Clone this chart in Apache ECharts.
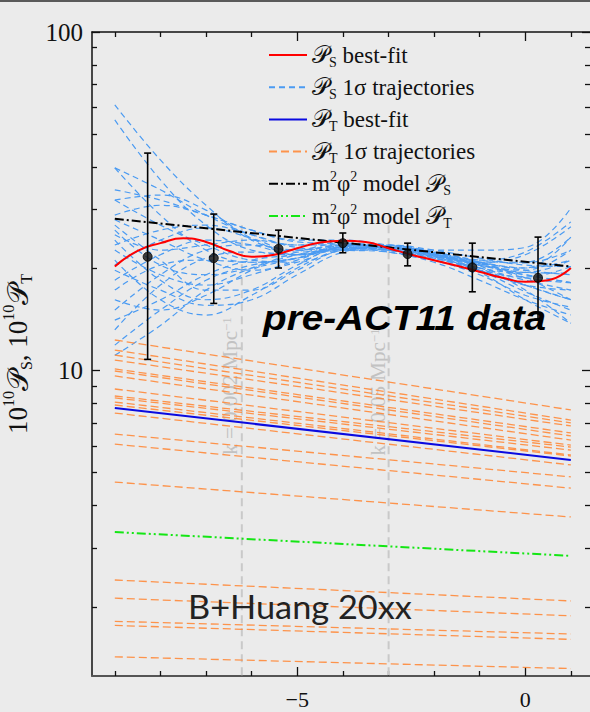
<!DOCTYPE html>
<html>
<head>
<meta charset="utf-8">
<script src="https://cdn.jsdelivr.net/npm/echarts@6/dist/echarts.min.js"></script>
<style>html,body{margin:0;padding:0;background:#ebebeb;}#c{width:590px;height:712px;}</style>
</head>
<body>
<div id="c"></div>
<script>
// ---------- data ----------
const xNodes = [-9, -8, -7, -6, -5, -4, -3, -2, -1, 0, 1];
const psTrajectories = [
  [60.9, 41.9, 30.8, 24.3, 22.7, 23.5, 23.5, 22.4, 20.9, 19.8, 19.2],
  [55.0, 36.6, 26.9, 22.7, 22.0, 23.1, 22.7, 21.5, 19.8, 17.9, 16.2],
  [39.7, 34.2, 28.8, 25.2, 23.5, 23.8, 23.2, 22.0, 20.5, 19.5, 21.2],
  [39.7, 28.8, 22.7, 20.9, 21.5, 23.4, 23.1, 21.8, 20.1, 17.3, 13.8],
  [34.2, 31.9, 28.8, 26.0, 24.0, 23.7, 22.9, 21.7, 20.9, 22.0, 26.6],
  [31.9, 26.9, 23.5, 21.2, 20.9, 22.7, 23.1, 22.0, 20.5, 19.2, 18.2],
  [28.8, 30.8, 28.8, 26.0, 24.3, 24.3, 23.5, 22.7, 22.7, 23.1, 30.2],
  [27.9, 24.3, 21.2, 19.8, 20.9, 23.1, 22.7, 21.2, 19.2, 16.7, 15.4],
  [26.9, 21.2, 17.3, 17.3, 19.8, 22.7, 23.1, 22.3, 21.2, 20.8, 22.7],
  [25.2, 22.7, 23.5, 24.3, 23.5, 23.5, 22.7, 21.5, 20.1, 18.5, 17.3],
  [24.3, 18.5, 16.2, 17.3, 20.5, 23.2, 23.4, 22.3, 20.4, 17.9, 16.2],
  [23.5, 26.0, 26.9, 25.2, 23.1, 22.7, 22.4, 21.2, 19.8, 18.9, 20.3],
  [22.7, 19.2, 17.9, 19.2, 21.2, 23.1, 22.4, 20.9, 18.5, 16.2, 14.6],
  [21.2, 16.2, 14.6, 16.7, 20.1, 22.7, 23.1, 22.0, 20.9, 20.1, 24.8],
  [20.5, 24.3, 26.4, 24.6, 22.4, 22.7, 22.7, 21.8, 20.7, 19.5, 19.4],
  [19.8, 17.3, 15.6, 16.2, 19.2, 22.4, 23.2, 22.4, 20.9, 18.8, 16.2],
  [18.5, 22.0, 24.3, 23.5, 22.0, 22.9, 23.2, 22.1, 20.8, 20.1, 21.2],
  [17.3, 20.5, 21.2, 20.9, 21.5, 23.4, 23.4, 22.1, 19.8, 17.1, 15.1],
  [16.2, 15.1, 16.7, 19.8, 22.4, 23.7, 23.2, 21.8, 20.1, 19.2, 18.2],
  [15.1, 19.2, 22.7, 23.5, 22.7, 23.4, 22.9, 21.7, 19.8, 17.9, 17.3],
  [14.1, 16.2, 19.2, 21.2, 22.0, 23.1, 23.1, 22.0, 20.9, 20.9, 24.8],
  [13.2, 17.9, 21.5, 22.4, 22.0, 22.9, 22.7, 21.5, 19.5, 16.2, 13.8],
  [11.9, 15.1, 18.5, 20.5, 21.5, 23.1, 23.1, 22.1, 20.7, 18.8, 18.2],
  [11.1, 13.6, 17.3, 20.1, 22.0, 23.5, 23.2, 22.0, 20.5, 19.8, 22.7],
  [31.9, 33.0, 29.8, 24.6, 22.0, 22.7, 22.9, 22.1, 21.2, 22.4, 27.5],
  [26.0, 20.5, 19.2, 20.1, 21.5, 23.2, 23.5, 22.7, 21.5, 20.5, 20.3]
];
const ptX = [-9, 1];
const ptTrajectories = [
  [12.32, 7.66], [11.51, 7.15], [11.12, 7.01], [10.75, 6.87], [10.12, 6.55],
  [9.98, 6.42], [9.65, 6.24], [8.83, 6.03], [8.42, 5.95], [8.31, 5.83],
  [8.08, 5.64], [7.92, 5.60], [7.50, 5.27], [6.50, 4.86], [6.07, 4.50],
  [4.69, 3.70], [2.41, 2.09], [2.13, 1.89], [1.82, 1.67], [1.77, 1.61], [1.43, 1.32]
];
const bestX = [-9, -8.5, -8, -7.5, -7, -6.5, -6, -5.5, -5, -4.5, -4, -3.5, -3, -2.5, -2, -1.5, -1, -0.5, 0, 0.5, 1];
const psBest = [20.3, 22.6, 23.8, 24.6, 24.0, 22.6, 21.7, 22.0, 23.0, 23.9, 24.2, 24.0, 23.0, 22.0, 21.2, 20.4, 19.6, 18.8, 18.3, 18.5, 20.1];
const ptBest = [7.76, 5.45];
const modelPS = [28.1, 20.3];
const modelPT = [3.34, 2.84];
const dataX = [-8.28, -6.83, -5.41, -4.0, -2.58, -1.16, 0.28];
const dataY = [21.7, 21.5, 22.9, 23.8, 22.1, 20.2, 18.8];
const dataLo = [10.8, 15.8, 20.1, 22.3, 20.4, 17.1, 14.2];
const dataHi = [43.9, 29.0, 26.0, 25.5, 23.8, 23.8, 24.8];
const kLineX = [-6.215, -2.996];
const kLineTop = 26.9;
const xMajorTicks = [-5, 0];
const xMinorTicks = [-9, -8, -7, -6, -4, -3, -2, -1, 1];
const yMajorTicks = [10, 100];
const yMinorTicks = [2, 3, 4, 5, 6, 7, 8, 9, 20, 30, 40, 50, 60, 70, 80, 90];
const xRange = [-9.5, 1.42];
const yRange = [1.255, 100];

// ---------- styling helpers ----------
const SERIF = 'Liberation Serif';
const PFONT = 'DejaVu Serif';
function richSet(base, pSize, small) {
  return {
    p: {fontFamily: PFONT, fontSize: pSize, lineHeight: base + 8, color: '#111'},
    sub: {fontFamily: SERIF, fontSize: small, lineHeight: small + 1, verticalAlign: 'bottom', color: '#111'},
    sup: {fontFamily: SERIF, fontSize: small, lineHeight: small + 1, verticalAlign: 'top', color: '#111'}
  };
}
const legendLabels = {
  'PS best-fit': '{p|𝒫}{sub|S} best-fit',
  'PS 1σ trajectories': '{p|𝒫}{sub|S} 1σ trajectories',
  'PT best-fit': '{p|𝒫}{sub|T} best-fit',
  'PT 1σ trajectories': '{p|𝒫}{sub|T} 1σ trajectories',
  'm2φ2 model PS': 'm{sup|2}φ{sup|2} model {p|𝒫}{sub|S}',
  'm2φ2 model PT': 'm{sup|2}φ{sup|2} model {p|𝒫}{sub|T}'
};

function xAxisDef(pos, ticks, len, lineShow, labelShow) {
  return {
    type: 'value', position: pos, min: xRange[0], max: xRange[1],
    axisLine: {show: lineShow, onZero: false, lineStyle: {color: pos === 'bottom' ? '#555' : '#111', width: pos === 'bottom' ? 2 : 1.5}},
    axisTick: {show: true, inside: true, length: len, customValues: ticks, lineStyle: {color: '#111', width: 1.3}},
    axisLabel: labelShow ? {show: true, customValues: ticks, margin: 12, fontFamily: SERIF, fontSize: 22, color: '#111',
      formatter: v => (v < 0 ? '\u2212' + (-v) : '' + v)} : {show: false},
    splitLine: {show: false}
  };
}
function yAxisDef(pos, ticks, len, lineShow, labelShow, withName) {
  const a = {
    type: 'log', logBase: 10, position: pos, min: yRange[0], max: yRange[1],
    axisLine: {show: lineShow, onZero: false, lineStyle: {color: '#111', width: 1.5}},
    axisTick: {show: true, inside: true, length: len, customValues: ticks, lineStyle: {color: '#111', width: 1.3}},
    axisLabel: labelShow ? {show: true, customValues: ticks, margin: 9, fontFamily: SERIF, fontSize: 25, color: '#111', padding: [0, 0, 10, 0]} : {show: false},
    splitLine: {show: false}, minorTick: {show: false}
  };
  if (withName) {
    a.name = '10{sup|10}{p|𝒫}{sub|S}, 10{sup|10}{p|𝒫}{sub|T}';
    a.nameLocation = 'middle';
    a.nameRotate = 90;
    a.nameGap = 47;
    a.nameTextStyle = {fontFamily: SERIF, fontSize: 27, color: '#111', lineHeight: 34, rich: richSet(26, 29, 16)};
  }
  return a;
}

// ---------- series ----------
const series = [];
const C_PS = '#4b9bf2', C_PT = '#ff8a3a';
psTrajectories.forEach(vals => series.push({
  name: 'PS 1σ trajectories', type: 'line', smooth: 0.4, symbol: 'none', silent: true, z: 3, color: C_PS,
  lineStyle: {color: C_PS, width: 1.2, type: [6, 4]},
  data: xNodes.map((x, j) => [x, vals[j]])
}));
ptTrajectories.forEach(vals => series.push({
  name: 'PT 1σ trajectories', type: 'line', symbol: 'none', silent: true, z: 3, color: C_PT,
  lineStyle: {color: C_PT, width: 1.3, type: [8, 4], opacity: 0.9},
  data: ptX.map((x, j) => [x, vals[j]])
}));
kLineX.forEach(x => series.push({
  name: 'k', type: 'line', symbol: 'none', silent: true, z: 2, color: '#c9c9c9',
  lineStyle: {color: '#c9c9c9', width: 2, type: [8, 5]},
  data: [[x, kLineTop], [x, yRange[0]]]
}));
series.push({
  name: 'm2φ2 model PT', type: 'line', symbol: 'none', z: 4, color: '#14e614',
  lineStyle: {color: '#14e614', width: 2, type: [9, 3, 2, 3, 2, 3]},
  data: ptX.map((x, j) => [x, modelPT[j]])
});
series.push({
  name: 'PT best-fit', type: 'line', symbol: 'none', z: 4, color: '#0a0ae0',
  lineStyle: {color: '#0a0ae0', width: 2},
  data: ptX.map((x, j) => [x, ptBest[j]])
});
series.push({
  name: 'm2φ2 model PS', type: 'line', symbol: 'none', z: 4, color: '#000',
  lineStyle: {color: '#000', width: 2, type: [9, 3, 2, 3]},
  data: ptX.map((x, j) => [x, modelPS[j]])
});
series.push({
  name: 'PS best-fit', type: 'line', symbol: 'none', smooth: 0.5, z: 5, color: '#f00',
  lineStyle: {color: '#f00', width: 2},
  data: bestX.map((x, j) => [x, psBest[j]])
});
series.push({
  name: 'errors', type: 'custom', z: 6, silent: true,
  encode: {x: 0, y: [1, 2]},
  data: dataX.map((x, i) => [x, dataLo[i], dataHi[i]]),
  renderItem: function (params, api) {
    const x = api.value(0);
    const t = api.coord([x, api.value(2)]);
    const b = api.coord([x, api.value(1)]);
    const w = 3.5, st = {stroke: '#000', lineWidth: 1.6};
    return {type: 'group', children: [
      {type: 'line', shape: {x1: t[0], y1: t[1], x2: b[0], y2: b[1]}, style: st},
      {type: 'line', shape: {x1: t[0] - w, y1: t[1], x2: t[0] + w, y2: t[1]}, style: st},
      {type: 'line', shape: {x1: b[0] - w, y1: b[1], x2: b[0] + w, y2: b[1]}, style: st}
    ]};
  }
});
series.push({
  name: 'data', type: 'scatter', symbol: 'circle', symbolSize: 9, z: 7, silent: true,
  itemStyle: {color: '#111', borderColor: '#000', borderWidth: 1},
  data: dataX.map((x, i) => [x, dataY[i]])
});

const option = {
  backgroundColor: '#ebebeb',
  animation: false,
  grid: {left: 92, right: 0, top: 32, bottom: 36, containLabel: false, outerBoundsMode: 'none'},
  xAxis: [
    xAxisDef('bottom', xMajorTicks, 9, true, true),
    xAxisDef('bottom', xMinorTicks, 5, false, false),
    xAxisDef('top', xMajorTicks, 9, true, false),
    xAxisDef('top', xMinorTicks, 5, false, false)
  ],
  yAxis: [
    yAxisDef('left', yMajorTicks, 8, true, true, true),
    yAxisDef('left', yMinorTicks, 5, false, false, false),
    yAxisDef('right', yMajorTicks, 8, false, false, false),
    yAxisDef('right', yMinorTicks, 5, false, false, false)
  ],
  legend: {
    orient: 'vertical', left: 263, top: 36, itemWidth: 38, itemHeight: 14, itemGap: 4.2,
    selectedMode: false,
    itemStyle: {opacity: 0},
    data: ['PS best-fit', 'PS 1σ trajectories', 'PT best-fit', 'PT 1σ trajectories', 'm2φ2 model PS', 'm2φ2 model PT'],
    formatter: name => legendLabels[name],
    textStyle: {fontFamily: SERIF, fontSize: 23, color: '#111', lineHeight: 28, rich: richSet(20, 24, 14)}
  },
  graphic: [
    {type: 'rect', left: 0, top: 0, shape: {width: 590, height: 2}, style: {fill: '#5a5a5a'}, z: 100},
    {type: 'text', x: 230, y: 386, rotation: Math.PI / 2, z: 1,
      style: {text: 'k = 0.002 Mpc{s|\u22121}', fill: '#c2c2c2', fontFamily: SERIF, fontSize: 21, align: 'center', verticalAlign: 'middle',
        rich: {s: {fontFamily: SERIF, fontSize: 13, fill: '#c2c2c2', verticalAlign: 'top'}}}},
    {type: 'text', x: 378, y: 392, rotation: Math.PI / 2, z: 1,
      style: {text: 'k = 0.05 Mpc{s|\u22121}', fill: '#c2c2c2', fontFamily: SERIF, fontSize: 21, align: 'center', verticalAlign: 'middle',
        rich: {s: {fontFamily: SERIF, fontSize: 13, fill: '#c2c2c2', verticalAlign: 'top'}}}},
    {type: 'text', x: 263, y: 317, z: 100, scaleX: 1.075,
      style: {text: 'pre-ACT11 data', fill: '#000', fontFamily: 'Liberation Sans', fontWeight: 'bold', fontStyle: 'italic', fontSize: 36, verticalAlign: 'middle'}},
    {type: 'text', x: 188, y: 606, z: 100, scaleX: 1.04,
      style: {text: 'B+Huang 20xx', fill: '#222', fontFamily: 'Lato', fontSize: 33, verticalAlign: 'middle'}}
  ],
  series: series
};

const chart = echarts.init(document.getElementById('c'), null, {renderer: 'svg'});
chart.setOption(option);
</script>
</body>
</html>
